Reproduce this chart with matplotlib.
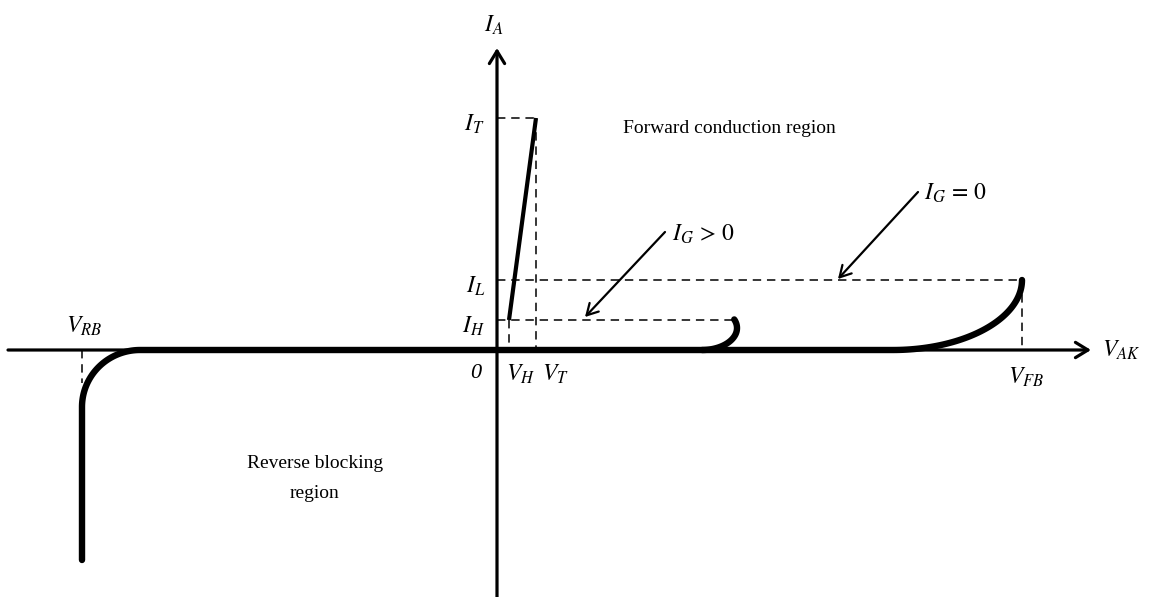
import numpy as np
import matplotlib
matplotlib.use("Agg")
import matplotlib.pyplot as plt

plt.rcParams["font.family"] = ["Liberation Serif", "DejaVu Serif"]
plt.rcParams["mathtext.fontset"] = "stix"

# Characteristic points of the thyristor V-I curve (schematic units)
V_RB = -415      # reverse breakdown voltage
V_H = 12         # holding voltage
V_T = 39         # on-state voltage at I_T
V_GT = 238       # forward breakover with gate current
V_FB = 525       # forward breakover voltage (I_G = 0)
I_T = 232        # on-state current
I_L = 70         # latching current
I_H = 30         # holding current
I_REV = -210     # lowest reverse current drawn
KNEE_REV = (58, 57)    # width/height of reverse knee
KNEE_FWD = (129, 70)   # width/height of forward breakover knee
KNEE_GATE = (35, 22)   # width/height of gated breakover hook

fig = plt.figure(figsize=(11.51, 5.97), dpi=100)
ax = fig.add_axes([0, 0, 1, 1])
ax.set_xlim(-497, 654)
ax.set_ylim(-247, 350)
ax.axis("off")

# Axes with open arrowheads
arrow_kw = dict(arrowstyle="->,head_length=0.9,head_width=0.55", lw=2.3,
                color="black", shrinkA=0, shrinkB=0)
ax.annotate("", xy=(594, 0), xytext=(-489, 0), arrowprops=arrow_kw)
ax.annotate("", xy=(0, 302), xytext=(0, -247), arrowprops=arrow_kw)

# Main characteristic: reverse blocking -> forward blocking -> breakover
t = np.linspace(0, np.pi / 2, 60)
kx, ky = KNEE_REV
rev_x = np.concatenate([[V_RB], V_RB + kx - kx * np.cos(t)])
rev_y = np.concatenate([[I_REV], -ky + ky * np.sin(t)])
fx, fy = KNEE_FWD
fwd_start = V_FB - fx
fwd_x = fwd_start + fx * np.sin(t)
fwd_y = I_L - fy * np.cos(t)
main_x = np.concatenate([rev_x, fwd_x])
main_y = np.concatenate([rev_y, fwd_y])
ax.plot(main_x, main_y, color="black", lw=4.6, solid_capstyle="round",
        solid_joinstyle="round")

# Gated breakover hook
gx, gy = KNEE_GATE
tg = np.linspace(-np.pi / 2, 0.4, 50)
ax.plot(V_GT - gx + 2 + gx * np.cos(tg), gy + gy * np.sin(tg), color="black",
        lw=4.6, solid_capstyle="round")

# On-state branch
ax.plot([V_H, V_T], [I_H, I_T], color="black", lw=3.0, solid_capstyle="butt")

# Dashed reference lines
dash = dict(color="black", lw=1.1, linestyle=(0, (5.5, 3.8)))
ax.plot([0, V_T], [I_T, I_T], **dash)
ax.plot([V_T, V_T], [I_T, 0], **dash)
ax.plot([0, V_FB], [I_L, I_L], **dash)
ax.plot([V_FB, V_FB], [I_L, 0], **dash)
ax.plot([0, V_GT - 2], [I_H, I_H], **dash)
ax.plot([V_H, V_H], [I_H, 0], **dash)
ax.plot([V_RB, V_RB], [0, -33], **dash)

# Pointers to the gate-current curves
ptr_kw = dict(arrowstyle="->,head_length=0.8,head_width=0.45", lw=1.6,
              color="black", shrinkA=0, shrinkB=0)
ax.annotate("", xy=(88, I_H + 3), xytext=(168, 118), arrowprops=ptr_kw)
ax.annotate("", xy=(341, I_L + 1), xytext=(421, 158), arrowprops=ptr_kw)

ms = 17
ax.text(-3, 325, r"$I_A$", fontsize=ms, ha="center", va="center")
ax.text(-12, 226, r"$I_T$", fontsize=ms, ha="right", va="center")
ax.text(-12, 64, r"$I_L$", fontsize=ms, ha="right", va="center")
ax.text(-12, 24, r"$I_H$", fontsize=ms, ha="right", va="center")
ax.text(-21, -24, "0", fontsize=16, fontstyle="italic", ha="center",
        va="center")
ax.text(9, -13, r"$V_H$", fontsize=ms, ha="left", va="top")
ax.text(45, -13, r"$V_T$", fontsize=ms, ha="left", va="top")
ax.text(529, -27, r"$V_{FB}$", fontsize=ms, ha="center", va="center")
ax.text(605, 0, r"$V_{AK}$", fontsize=ms, ha="left", va="center")
ax.text(-413, 24, r"$V_{RB}$", fontsize=ms, ha="center", va="center")
ax.text(175, 116, r"$I_G\,>\,0$", fontsize=ms, ha="left", va="center")
ax.text(427, 157, r"$I_G\,=\,0$", fontsize=ms, ha="left", va="center")

ax.text(126, 217, "Forward conduction region", fontsize=14, ha="left",
        va="baseline")
ax.text(-182, -118, "Reverse blocking", fontsize=14, ha="center", va="baseline")
ax.text(-182, -148, "region", fontsize=14, ha="center", va="baseline")

fig.savefig("out.png", dpi=100)
